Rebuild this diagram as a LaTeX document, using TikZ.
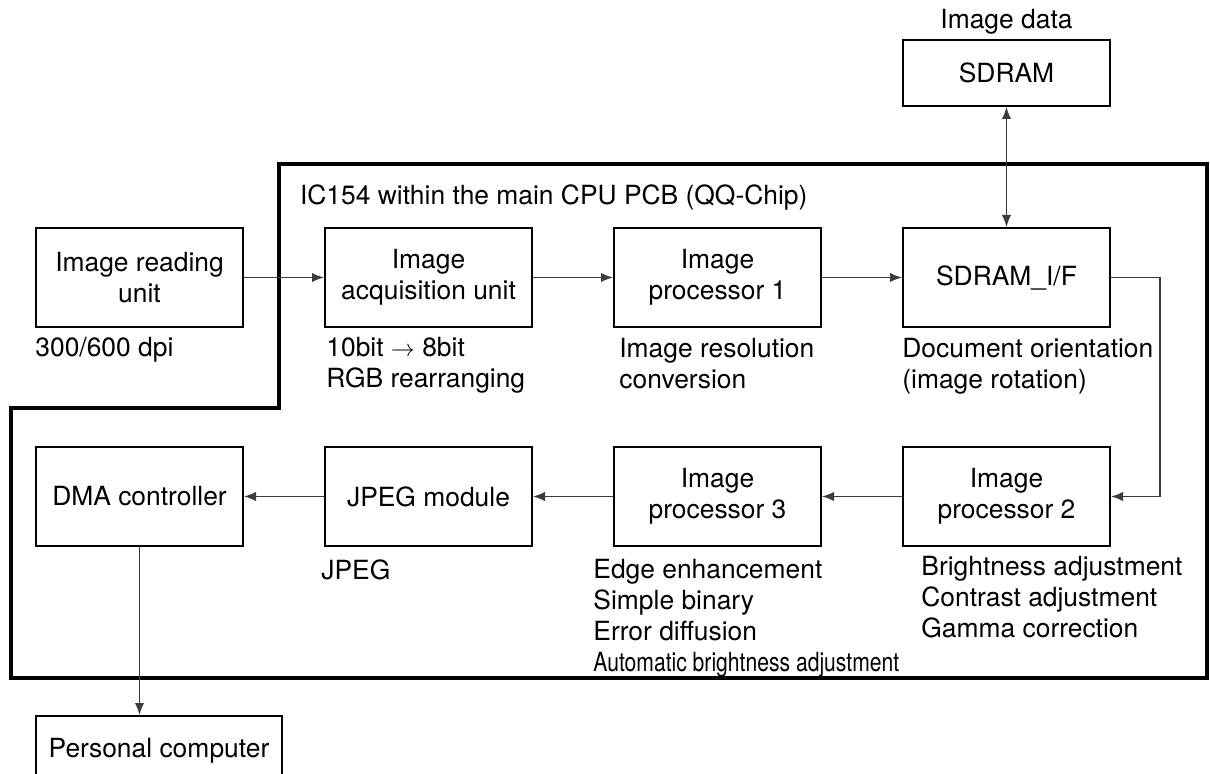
\documentclass[tikz,border=0pt]{standalone}
\usepackage{fontspec}
\setmainfont{TeX Gyre Heros}
\newfontfamily\narrowfont[FakeStretch=0.8]{TeX Gyre Heros}
\usepackage{tikz}
\usetikzlibrary{arrows.meta,positioning}
\definecolor{wirec}{RGB}{60,60,60}

\begin{document}
\begin{tikzpicture}[x=0.5pt,y=-0.5pt,font=\fontsize{13.2}{15.5}\selectfont,>={Latex[length=6pt,width=4.6pt]}]
\tikzstyle{blk}=[draw,line width=1pt,minimum width=103.5pt,minimum height=49.5pt,align=center,inner sep=2pt]
\tikzstyle{lbl}=[inner sep=0pt,align=left,anchor=north west]
\tikzstyle{con}=[->,wirec,line width=0.6pt]
\useasboundingbox (0,0) rectangle (1210,774);
\clip (0,0) rectangle (1210,774);
% top row
\node[blk] (read) at (139.5,277.5) {Image reading\\unit};
\node[blk,right=40pt of read] (acq) {Image\\acquisition unit};
\node[blk,right=40pt of acq] (ip1) {Image\\processor 1};
\node[blk,right=40pt of ip1] (sdif) {SDRAM\_I/F};
\node[blk,above=60pt of sdif,minimum height=33pt] (sdram) {SDRAM};
\node[inner sep=0pt,above=2pt of sdram] (imgdata) {Image data};
% bottom row, right to left
\node[blk,below=59pt of sdif] (ip2) {Image\\processor 2};
\node[blk,left=40pt of ip2] (ip3) {Image\\processor 3};
\node[blk,left=40pt of ip3] (jpeg) {JPEG module};
\node[blk,left=40pt of jpeg] (dma) {DMA controller};
\node[blk,below=84pt of dma.south west,anchor=north west,minimum width=123pt,minimum height=35pt] (pc) {Personal computer};
% chip outline
\draw[line width=1.6pt] (279,408) -- (279,164) -- (1207,164) -- (1207,678) -- (11,678) -- (11,408) -- cycle;
\node[anchor=base west] (chip) at (293,205) {IC154 within the main CPU PCB (QQ-Chip)};
% notes under the blocks
\node[below=4.5pt of read.south west,lbl] (readl) {300/600 dpi};
\node[below=4.5pt of acq.south west,lbl,xshift=1pt] (acql) {10bit $\rightarrow$ 8bit\\RGB rearranging};
\node[below=5pt of ip1.south west,lbl,xshift=3pt] (ip1l) {Image resolution\\conversion};
\node[below=5pt of sdif.south west,lbl] (sdifl) {Document orientation\\(image rotation)};
\node[below=4.5pt of ip2.south west,lbl,xshift=9.5pt] (ip2l) {Brightness adjustment\\Contrast adjustment\\Gamma correction};
\node[below=6pt of ip3.south west,lbl,xshift=-10pt] (ip3l) {Edge enhancement\\Simple binary\\Error diffusion\\{\narrowfont Automatic brightness adjustment}};
\node[below=6pt of jpeg.south west,lbl,xshift=-1.5pt] (jpegl) {JPEG};
% data path
\draw[con] (read) -- (acq);
\draw[con] (acq) -- (ip1);
\draw[con] (ip1) -- (sdif);
\draw[con,<->] (sdram) -- (sdif);
\draw[con] (sdif.east) -- ++(24.5pt,0) |- (ip2.east);
\draw[con] (ip2) -- (ip3);
\draw[con] (ip3) -- (jpeg);
\draw[con] (jpeg) -- (dma);
\draw[con] (dma.south) -- (dma.south |- pc.north);
\end{tikzpicture}
\end{document}
